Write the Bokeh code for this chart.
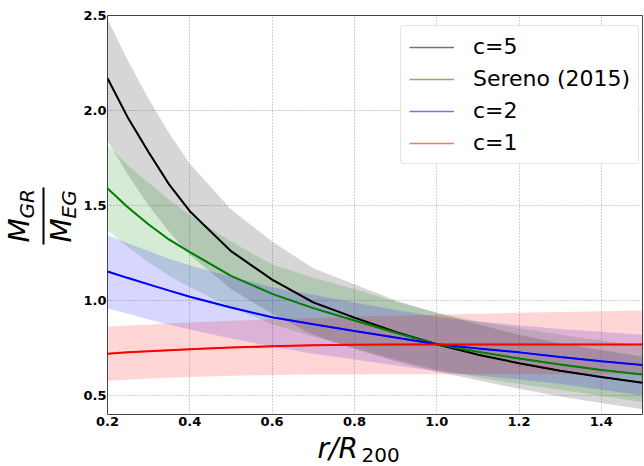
import numpy as np
from bokeh.plotting import figure
from bokeh.layouts import column, row
from bokeh.models import (ColumnDataSource, Label, Legend, LegendItem, FixedTicker,
                          PrintfTickFormatter, BoxAnnotation, Range1d)
from bokeh.embed import file_html
from bokeh.resources import INLINE

# ---- data ----
r = [0.2, 0.25, 0.3, 0.35, 0.4, 0.5, 0.6, 0.7, 0.8, 0.9, 1.0, 1.1, 1.2, 1.3, 1.4, 1.5]

c5 = [2.17, 1.96, 1.78, 1.61, 1.47, 1.26, 1.11, 0.99, 0.91, 0.835, 0.77, 0.715, 0.67, 0.63, 0.597, 0.567]
c5_hi = [2.48, 2.26, 2.06, 1.88, 1.72, 1.48, 1.31, 1.17, 1.085, 1.00, 0.935, 0.875, 0.82, 0.775, 0.74, 0.705]
c5_lo = [1.84, 1.66, 1.50, 1.36, 1.24, 1.06, 0.93, 0.82, 0.745, 0.68, 0.625, 0.58, 0.535, 0.495, 0.46, 0.428]

ser = [1.59, 1.49, 1.40, 1.32, 1.255, 1.13, 1.035, 0.96, 0.895, 0.83, 0.77, 0.73, 0.695, 0.663, 0.634, 0.61]
ser_hi = [1.82, 1.71, 1.62, 1.53, 1.45, 1.31, 1.19, 1.12, 1.06, 0.995, 0.935, 0.89, 0.855, 0.82, 0.79, 0.76]
ser_lo = [1.37, 1.28, 1.20, 1.13, 1.07, 0.965, 0.875, 0.81, 0.75, 0.69, 0.635, 0.595, 0.56, 0.53, 0.497, 0.466]

c2 = [1.153, 1.118, 1.085, 1.052, 1.02, 0.963, 0.912, 0.875, 0.84, 0.805, 0.77, 0.748, 0.727, 0.703, 0.68, 0.66]
c2_hi = [1.345, 1.30, 1.26, 1.22, 1.185, 1.125, 1.07, 1.03, 0.99, 0.95, 0.915, 0.89, 0.87, 0.85, 0.835, 0.82]
c2_lo = [0.958, 0.93, 0.90, 0.872, 0.848, 0.80, 0.758, 0.72, 0.69, 0.658, 0.628, 0.605, 0.585, 0.56, 0.53, 0.50]

c1 = [0.72, 0.727, 0.733, 0.738, 0.743, 0.752, 0.759, 0.764, 0.767, 0.768, 0.769, 0.769, 0.769, 0.769, 0.769, 0.769]
c1_hi = [0.862, 0.868, 0.874, 0.879, 0.884, 0.893, 0.901, 0.908, 0.914, 0.92, 0.925, 0.93, 0.935, 0.939, 0.943, 0.947]
c1_lo = [0.577, 0.583, 0.589, 0.594, 0.598, 0.604, 0.608, 0.61, 0.611, 0.612, 0.612, 0.612, 0.612, 0.612, 0.612, 0.612]

x_ticks = [0.2, 0.4, 0.6, 0.8, 1.0, 1.2, 1.4]
y_ticks = [0.5, 1.0, 1.5, 2.0, 2.5]
labels = ["c=5", "Sereno (2015)", "c=2", "c=1"]
colors = ["black", "green", "blue", "red"]

src = ColumnDataSource(data=dict(r=r, c5=c5, c5_hi=c5_hi, c5_lo=c5_lo,
                                 ser=ser, ser_hi=ser_hi, ser_lo=ser_lo,
                                 c2=c2, c2_hi=c2_hi, c2_lo=c2_lo,
                                 c1=c1, c1_hi=c1_hi, c1_lo=c1_lo))

# ---- main plot ----
p = figure(width=564, height=432, output_backend="svg", toolbar_location=None,
           x_range=Range1d(0.2, 1.5), y_range=Range1d(0.4, 2.5),
           min_border_left=24, min_border_right=2, min_border_top=15, min_border_bottom=18)
p.background_fill_color = "white"
p.border_fill_color = "white"
p.outline_line_color = "#444444"
p.outline_line_width = 1

for ax in (p.xaxis[0], p.yaxis[0]):
    ax.axis_line_color = None
    ax.major_tick_line_color = None
    ax.minor_tick_line_color = None
    ax.major_tick_in = 0
    ax.major_tick_out = 0
    ax.major_label_text_font = "DejaVu Sans"
    ax.major_label_text_font_style = "bold"
    ax.major_label_text_font_size = "13px"
    ax.major_label_text_color = "black"
    ax.formatter = PrintfTickFormatter(format="%.1f")
p.xaxis[0].ticker = FixedTicker(ticks=x_ticks)
p.yaxis[0].ticker = FixedTicker(ticks=y_ticks)
p.xaxis[0].major_label_standoff = 2
p.yaxis[0].major_label_standoff = 1

for g in (p.xgrid[0], p.ygrid[0]):
    g.grid_line_color = "#999999"
    g.grid_line_dash = "1 2"
    g.grid_line_width = 1
    g.grid_line_alpha = 0.9

keys = ["c5", "ser", "c2", "c1"]
for k, col in zip(keys, colors):
    p.varea(x="r", y1=k + "_lo", y2=k + "_hi", source=src, fill_color=col, fill_alpha=0.16)

# faded proxies for the legend (hidden under the solid lines)
items = []
for k, lab_txt, col in zip(keys, labels, colors):
    rr = p.line(x="r", y=k, source=src, line_color=col, line_alpha=0.55, line_width=1.5)
    items.append(LegendItem(label=lab_txt, renderers=[rr]))

for k, col in zip(keys, colors):
    p.line(x="r", y=k, source=src, line_color=col, line_width=2)

legend = Legend(items=items, location=(293, 250))
legend.label_text_font = "DejaVu Sans"
legend.label_text_font_size = "22px"
legend.label_text_color = "black"
legend.glyph_width = 45
legend.glyph_height = 20
legend.label_height = 20
legend.spacing = 7
legend.padding = 8
legend.margin = 0
legend.label_standoff = 19
legend.border_line_color = "#cccccc"
legend.border_line_width = 1
legend.background_fill_color = "white"
legend.background_fill_alpha = 1
try:
    legend.border_radius = 4
except Exception:
    pass
p.add_layout(legend)


def lab(text, x, y, size, style="italic", angle=0.0):
    return Label(x=x, y=y, x_units="screen", y_units="screen", text=text, angle=angle,
                 text_font="DejaVu Sans", text_font_style=style, text_font_size=size,
                 text_align="left", text_baseline="middle", text_color="black")


def blank(w, h):
    f = figure(width=w, height=h, output_backend="svg", toolbar_location=None,
               x_range=Range1d(0, w), y_range=Range1d(0, h),
               x_axis_type=None, y_axis_type=None, min_border=0)
    f.outline_line_color = None
    f.grid.visible = False
    f.background_fill_color = "white"
    f.border_fill_color = "white"
    return f


# ---- y label: M_GR / M_EG (rotated fraction); frame aligned with main plot ----
yfig = blank(80, 432)
yfig.add_layout(lab("M", 19.3, 172, "28px", angle=np.pi / 2))
yfig.add_layout(lab("GR", 26.1, 196, "20px", angle=np.pi / 2))
yfig.add_layout(lab("M", 61.3, 172, "28px", angle=np.pi / 2))
yfig.add_layout(lab("EG", 68.1, 196, "20px", angle=np.pi / 2))
yfig.add_layout(BoxAnnotation(left=42, right=44, bottom=170, top=227,
                              left_units="screen", right_units="screen",
                              bottom_units="screen", top_units="screen",
                              fill_color="black", fill_alpha=1, line_color=None))

# ---- x label: r/R_200 ----
xfig = blank(644, 34)
xfig.add_layout(lab("r/R", 317, 17.7, "28px"))
xfig.add_layout(lab("200", 361, 11.9, "20px", style="normal"))

layout = column(row(yfig, p, spacing=0), xfig, spacing=0)

open("out.html", "w").write(file_html(layout, INLINE))
